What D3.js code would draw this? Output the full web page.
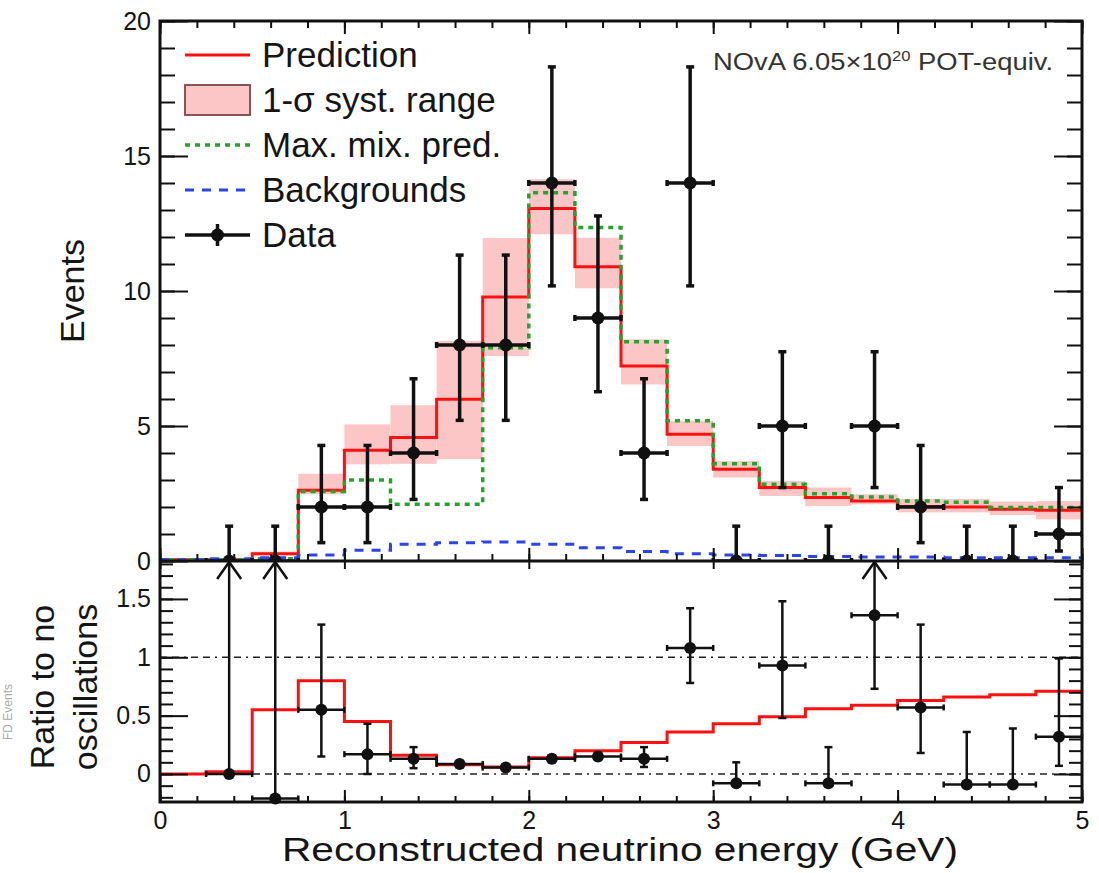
<!DOCTYPE html>
<html>
<head>
<meta charset="utf-8">
<script src="https://d3js.org/d3.v7.min.js"></script>
<style>
  body { margin: 0; background: #fff; }
  text { font-family: "Liberation Sans", Arial, Helvetica, sans-serif; fill: #151515; }
</style>
</head>
<body>
<div id="my_dataviz"></div>
<script>

// bin edges of reconstructed energy (GeV)
const edges = [0, 0.25, 0.5, 0.75, 1, 1.25, 1.5, 1.75, 2, 2.25, 2.5, 2.75, 3, 3.25, 3.5, 3.75, 4, 4.25, 4.5, 4.75, 5];

// top panel: events per bin
const prediction  = [0.05, 0.05, 0.27, 2.62, 4.1, 4.57, 5.99, 9.78, 13.06, 10.9, 7.22, 4.69, 3.4, 2.72, 2.35, 2.22, 2.02, 2.0, 1.92, 1.88];
const systLow     = [0.03, 0.03, 0.2, 2.47, 3.58, 3.6, 3.77, 7.59, 12.1, 10.1, 6.54, 4.26, 3.09, 2.41, 2.04, 2.1, 1.8, 1.8, 1.7, 1.54];
const systHigh    = [0.08, 0.08, 0.35, 3.23, 5.06, 5.77, 8.15, 11.96, 14.14, 11.97, 8.21, 5.19, 3.7, 2.96, 2.72, 2.47, 2.3, 2.3, 2.2, 2.22];
const maxMix      = [0.05, 0.05, 0.08, 2.57, 3.0, 2.1, 2.1, 7.9, 13.64, 12.35, 8.12, 5.19, 3.6, 2.84, 2.49, 2.37, 2.22, 2.18, 1.98, 1.98];
const backgrounds = [0.05, 0.08, 0.12, 0.22, 0.4, 0.62, 0.68, 0.7, 0.62, 0.49, 0.35, 0.27, 0.22, 0.2, 0.17, 0.15, 0.15, 0.12, 0.12, 0.12];
const dataCounts  = [null, 0, 0, 2, 2, 4, 8, 8, 14, 9, 4, 14, 0, 5, 0, 5, 2, 0, 0, 1];
const dataLow     = [null, 0, 0, 0.68, 0.68, 2.28, 5.21, 5.21, 10.19, 6.27, 2.28, 10.19, 0, 2.72, 0, 2.72, 0.68, 0, 0, 0.37];
const dataHigh    = [null, 1.29, 1.29, 4.28, 4.28, 6.75, 11.33, 11.33, 18.3, 12.78, 6.75, 18.3, 1.29, 7.75, 1.29, 7.75, 4.28, 1.29, 1.29, 2.72];

// bottom panel: ratio to no oscillations (null high = off scale, arrow)
const ratioPred = [0, 0.02, 0.55, 0.8, 0.45, 0.16, 0.08, 0.06, 0.14, 0.2, 0.27, 0.36, 0.43, 0.49, 0.56, 0.59, 0.63, 0.66, 0.68, 0.71];
const ratioData = [null, 0, -0.21, 0.55, 0.17, 0.13, 0.086, 0.055, 0.13, 0.15, 0.13, 1.08, -0.08, 0.93, -0.08, 1.36, 0.57, -0.09, -0.09, 0.32];
const ratioLow  = [null, 0, -0.21, 0.15, 0.0, 0.05, 0.06, 0.035, 0.1, 0.12, 0.06, 0.78, -0.08, 0.48, -0.08, 0.73, 0.18, -0.09, -0.09, 0.07];
const ratioHigh = [null, null, null, 1.28, 0.43, 0.23, 0.11, 0.08, 0.16, 0.18, 0.23, 1.42, 0.1, 1.48, 0.23, null, 1.28, 0.36, 0.39, 0.99];

const legendLabels = ["Prediction", "1-\u03c3 syst. range", "Max. mix. pred.", "Backgrounds", "Data"];
const eventTicks  = [0, 5, 10, 15, 20];
const ratioTicks  = [0, 0.5, 1, 1.5];
const energyTicks = [0, 1, 2, 3, 4, 5];
const refLines    = [0, 1];

const W = 1099, H = 873;
const pLeft = 160, pRight = 1082, pTop = 21, pMid = 561, pBottom = 802;

const red = "#ff1010", green = "#22a52a", blue = "#2a45f0", pink = "#fcc6c6";

const svg = d3.select("#my_dataviz")
  .append("svg")
    .attr("width", W)
    .attr("height", H);

const x  = d3.scaleLinear().domain([0, 5]).range([pLeft, pRight]);
const y  = d3.scaleLinear().domain([0, 20]).range([pMid, pTop]);
const yr = d3.scaleLinear().domain([-0.24, 1.825]).range([pBottom, pMid]);

const defs = svg.append("defs");
defs.append("clipPath").attr("id", "clipTop")
  .append("rect").attr("x", pLeft).attr("y", pTop).attr("width", pRight - pLeft).attr("height", pMid - pTop);
defs.append("clipPath").attr("id", "clipBot")
  .append("rect").attr("x", pLeft).attr("y", pMid).attr("width", pRight - pLeft).attr("height", pBottom - pMid);

// histogram as step line
function steps(vals, start) {
  const pts = vals.map((v, i) => [edges[i], v]);
  pts.push([edges[edges.length - 1], vals[vals.length - 1]]);
  if (start !== undefined) pts.unshift([edges[0], start]);
  return pts;
}

// ---------- top panel ----------
const gTop = svg.append("g").attr("clip-path", "url(#clipTop)");

gTop.selectAll("rect.band")
  .data(prediction)
  .enter()
  .append("rect")
    .attr("class", "band")
    .attr("x", (d, i) => x(edges[i]))
    .attr("width", (d, i) => x(edges[i + 1]) - x(edges[i]))
    .attr("y", (d, i) => y(systHigh[i]))
    .attr("height", (d, i) => y(systLow[i]) - y(systHigh[i]))
    .attr("fill", pink);

const stepLine = (sy) => d3.line()
  .x(d => x(d[0]))
  .y(d => sy(d[1]))
  .curve(d3.curveStepAfter);

gTop.append("path")
  .datum(steps(prediction, 0))
  .attr("d", stepLine(y))
  .attr("fill", "none").attr("stroke", red).attr("stroke-width", 3);

gTop.append("path")
  .datum(steps(maxMix, 0))
  .attr("d", stepLine(y))
  .attr("fill", "none").attr("stroke", green).attr("stroke-width", 3.5)
  .attr("stroke-dasharray", "5,5");

gTop.append("path")
  .datum(steps(backgrounds))
  .attr("d", stepLine(y))
  .attr("fill", "none").attr("stroke", blue).attr("stroke-width", 3)
  .attr("stroke-dasharray", "9,8");

// data points with error bars
function drawPoints(g, vals, lows, highs, sy, lw, r, capTop) {
  vals.forEach((v, i) => {
    if (v === null) return;
    const cx = x((edges[i] + edges[i + 1]) / 2);
    const x0 = x(edges[i]), x1 = x(edges[i + 1]);
    const yv = sy(v), ylo = sy(lows[i]);
    const yhi = highs[i] === null ? capTop : sy(highs[i]);
    const s = g.append("g").attr("stroke", "#111").attr("stroke-width", lw);
    s.append("line").attr("x1", x0).attr("x2", x1).attr("y1", yv).attr("y2", yv);
    s.append("line").attr("x1", x0).attr("x2", x0).attr("y1", yv - 3).attr("y2", yv + 3);
    s.append("line").attr("x1", x1).attr("x2", x1).attr("y1", yv - 3).attr("y2", yv + 3);
    s.append("line").attr("x1", cx).attr("x2", cx).attr("y1", ylo).attr("y2", yhi);
    s.append("line").attr("x1", cx - 4).attr("x2", cx + 4).attr("y1", ylo).attr("y2", ylo);
    if (highs[i] === null) {
      // off-scale: open arrow head at the top
      s.append("path")
        .attr("d", `M${cx - 12},${capTop + 18} L${cx},${capTop + 1} L${cx + 12},${capTop + 18}`)
        .attr("fill", "none");
    } else {
      s.append("line").attr("x1", cx - 4).attr("x2", cx + 4).attr("y1", yhi).attr("y2", yhi);
    }
    g.append("circle").attr("cx", cx).attr("cy", yv).attr("r", r).attr("fill", "#111");
  });
}

drawPoints(gTop, dataCounts, dataLow, dataHigh, y, 3.5, 6.5, pTop);

// ---------- bottom panel ----------
const gBot = svg.append("g").attr("clip-path", "url(#clipBot)");

gBot.selectAll("line.ref")
  .data(refLines)
  .enter()
  .append("line")
    .attr("class", "ref")
    .attr("x1", pLeft).attr("x2", pRight)
    .attr("y1", d => yr(d)).attr("y2", d => yr(d))
    .attr("stroke", "#222").attr("stroke-width", 1.6)
    .attr("stroke-dasharray", "7,5,7,5,2,5");

gBot.append("path")
  .datum(steps(ratioPred, -0.24))
  .attr("d", stepLine(yr))
  .attr("fill", "none").attr("stroke", red).attr("stroke-width", 3);

drawPoints(svg.append("g"), ratioData, ratioLow, ratioHigh, yr, 2.5, 6, pMid);

// ---------- axes ----------
function addAxis(gen, tx, ty, values, size, labels, fmt) {
  const a = gen.tickValues(values).tickSize(size).tickPadding(labels ? 9 : 0)
    .tickFormat(labels ? (fmt || (d => String(d))) : "");
  const g = svg.append("g").attr("transform", `translate(${tx},${ty})`).call(a);
  g.select(".domain").remove();
  g.selectAll("line").attr("stroke", "#111").attr("stroke-width", 2);
  g.selectAll("text").attr("font-size", 25).attr("fill", "#151515");
  return g;
}

const minorX = x.ticks(20);
const minorY = y.ticks(20);
const minorR = yr.ticks(20).filter(d => d > -0.24);

// top panel
addAxis(d3.axisLeft(y), pLeft, 0, minorY, -15, false);
addAxis(d3.axisLeft(y), pLeft, 0, eventTicks, -28, true);
addAxis(d3.axisRight(y), pRight, 0, minorY, -15, false);
addAxis(d3.axisRight(y), pRight, 0, eventTicks, -28, false);
addAxis(d3.axisTop(x), 0, pTop, minorX, -7, false);
addAxis(d3.axisTop(x), 0, pTop, energyTicks, -13, false);
addAxis(d3.axisBottom(x), 0, pMid, minorX, -7, false);
addAxis(d3.axisBottom(x), 0, pMid, energyTicks, -13, false);

// bottom panel
addAxis(d3.axisLeft(yr), pLeft, 0, minorR, -13, false);
addAxis(d3.axisLeft(yr), pLeft, 0, ratioTicks, -28, true);
addAxis(d3.axisRight(yr), pRight, 0, minorR, -13, false);
addAxis(d3.axisRight(yr), pRight, 0, ratioTicks, -28, false);
addAxis(d3.axisTop(x), 0, pMid, energyTicks, -8, false);
addAxis(d3.axisBottom(x), 0, pBottom, minorX, -6, false);
addAxis(d3.axisBottom(x), 0, pBottom, energyTicks, -12, true);

// frames
svg.append("rect")
  .attr("x", pLeft).attr("y", pTop).attr("width", pRight - pLeft).attr("height", pBottom - pTop)
  .attr("fill", "none").attr("stroke", "#111").attr("stroke-width", 3);
svg.append("line")
  .attr("x1", pLeft).attr("x2", pRight).attr("y1", pMid).attr("y2", pMid)
  .attr("stroke", "#111").attr("stroke-width", 3);

// ---------- titles ----------
svg.append("text")
  .attr("transform", `translate(84,291) rotate(-90)`)
  .attr("text-anchor", "middle")
  .attr("font-size", 34)
  .text("Events");

svg.append("text")
  .attr("transform", `translate(54,687) rotate(-90)`)
  .attr("text-anchor", "middle")
  .attr("font-size", 34)
  .text("Ratio to no");
svg.append("text")
  .attr("transform", `translate(97,687) rotate(-90)`)
  .attr("text-anchor", "middle")
  .attr("font-size", 34)
  .text("oscillations");

svg.append("text")
  .attr("transform", `translate(12,712) rotate(-90)`)
  .attr("text-anchor", "middle")
  .attr("font-size", 12)
  .style("fill", "#aaa")
  .text("FD Events");

svg.append("text")
  .attr("x", 282).attr("y", 861)
  .attr("font-size", 33)
  .attr("textLength", 676)
  .attr("lengthAdjust", "spacingAndGlyphs")
  .text("Reconstructed neutrino energy (GeV)");

const nova = svg.append("text")
  .attr("x", 713).attr("y", 70)
  .attr("font-size", 23)
  .attr("textLength", 340)
  .attr("lengthAdjust", "spacingAndGlyphs")
  .style("fill", "#333");
nova.append("tspan").text("NOvA 6.05\u00d710");
nova.append("tspan").attr("dy", -9).attr("font-size", 14).text("20");
nova.append("tspan").attr("dy", 9).text(" POT-equiv.");

// ---------- legend ----------
const leg = svg.append("g");
const legY = [55, 100, 145, 190, 235];
const lx0 = 185, lx1 = 250;

leg.append("line").attr("x1", lx0).attr("x2", lx1).attr("y1", legY[0]).attr("y2", legY[0])
  .attr("stroke", red).attr("stroke-width", 3);
leg.append("rect").attr("x", lx0).attr("y", legY[1] - 15).attr("width", lx1 - lx0).attr("height", 30)
  .attr("fill", pink).attr("stroke", "#8a5555").attr("stroke-width", 2);
leg.append("line").attr("x1", lx0).attr("x2", lx1).attr("y1", legY[2]).attr("y2", legY[2])
  .attr("stroke", green).attr("stroke-width", 3.5).attr("stroke-dasharray", "5,5");
leg.append("line").attr("x1", lx0).attr("x2", lx1).attr("y1", legY[3]).attr("y2", legY[3])
  .attr("stroke", blue).attr("stroke-width", 3).attr("stroke-dasharray", "9,8");
leg.append("line").attr("x1", lx0).attr("x2", lx1).attr("y1", legY[4]).attr("y2", legY[4])
  .attr("stroke", "#111").attr("stroke-width", 3.5);
leg.append("line").attr("x1", (lx0 + lx1) / 2).attr("x2", (lx0 + lx1) / 2)
  .attr("y1", legY[4] - 11).attr("y2", legY[4] + 11)
  .attr("stroke", "#111").attr("stroke-width", 3.5);
leg.append("circle").attr("cx", (lx0 + lx1) / 2).attr("cy", legY[4]).attr("r", 6.5).attr("fill", "#111");

leg.selectAll("text")
  .data(legendLabels)
  .enter()
  .append("text")
    .attr("x", 262)
    .attr("y", (d, i) => legY[i] + 12)
    .attr("font-size", 35)
    .text(d => d);

</script>
</body>
</html>
